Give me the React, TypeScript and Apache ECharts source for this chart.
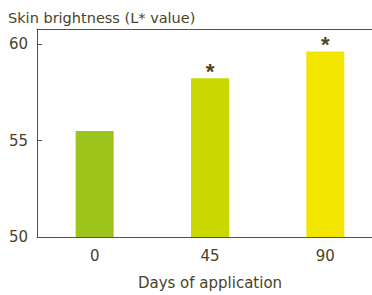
import React, { useEffect, useRef } from "react";
import * as echarts from "echarts";

const categories = ["0", "45", "90"];
const values = [55.51, 58.24, 59.63];
const significant = [false, true, true];
const barColors = ["#9dc41a", "#c8d800", "#f2e600"];
const yTicks = [50, 55, 60];

const TEXT = "#4a4329";
const AXIS = "#5a5232";
const FONT = "'DejaVu Sans', sans-serif";

export default function App() {
  const ref = useRef<HTMLDivElement>(null);
  useEffect(() => {
    if (!ref.current) return;
    const chart = echarts.init(ref.current, undefined, { renderer: "svg" });
    chart.setOption({
      animation: false,
      textStyle: { fontFamily: FONT },
      title: {
        text: "Skin brightness (L* value)",
        left: 3,
        top: 5,
        textStyle: { color: TEXT, fontSize: 14.5, fontWeight: "normal", fontFamily: FONT },
      },
      grid: { left: 37, top: 29, right: 0, bottom: 55 },
      xAxis: [
        {
          type: "category",
          data: categories,
          name: "Days of application",
          nameLocation: "middle",
          nameGap: 38,
          nameTextStyle: { color: TEXT, fontSize: 15, fontFamily: FONT },
          axisLine: { lineStyle: { color: AXIS, width: 1 } },
          axisTick: { inside: true, length: 6, lineStyle: { color: AXIS } },
          axisLabel: { color: TEXT, fontSize: 15, margin: 11, fontFamily: FONT },
        },
        {
          type: "category",
          data: categories,
          position: "top",
          axisLine: { show: true, lineStyle: { color: AXIS, width: 1 } },
          axisTick: { show: false },
          axisLabel: { show: false },
        },
      ],
      yAxis: {
        type: "value",
        min: 50,
        max: 60.8,
        interval: 5,
        axisLine: { show: true, lineStyle: { color: AXIS, width: 1 } },
        axisTick: { show: true, inside: true, length: 5, lineStyle: { color: AXIS } },
        splitLine: { show: false },
        axisLabel: {
          color: TEXT,
          fontSize: 15,
          margin: 9,
          fontFamily: FONT,
          formatter: (v: number) => (yTicks.includes(v) ? String(v) : ""),
        },
      },
      series: [
        {
          type: "bar",
          barWidth: 38,
          data: values.map((v, i) => ({
            value: v,
            itemStyle: { color: barColors[i] },
            label: {
              show: significant[i],
              position: "top",
              formatter: "*",
              distance: -4,
              color: TEXT,
              fontSize: 22,
              fontWeight: "bold",
              fontFamily: "'Liberation Sans', Arial, sans-serif",
            },
          })),
        },
      ],
    });
    return () => chart.dispose();
  }, []);
  return (
    <div style={{ position: "fixed", left: 0, top: 0, width: 372, height: 295, overflow: "hidden", background: "#fff" }}>
      <div ref={ref} style={{ width: 383, height: 295 }} />
    </div>
  );
}
